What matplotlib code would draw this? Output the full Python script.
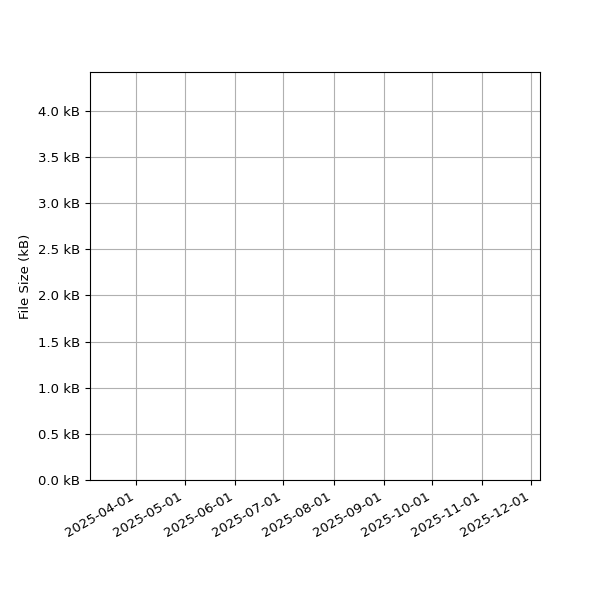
import datetime as dt
import matplotlib
matplotlib.use('Agg')
import matplotlib.pyplot as plt
import matplotlib.dates as mdates
from matplotlib.ticker import FuncFormatter, MultipleLocator

plt.rcParams['font.size'] = 9.5

# visible window of the (empty) file size history
x_start = dt.datetime(2025, 3, 3, 14)
x_end = dt.datetime(2025, 12, 6, 13)
y_min_kb = 0.0
y_max_kb = 4.42

fig, ax = plt.subplots(figsize=(6, 6), dpi=100)
fig.subplots_adjust(left=0.15, right=0.9, top=0.88, bottom=0.2)

ax.set_xlim(x_start, x_end)
ax.set_ylim(y_min_kb, y_max_kb)

ax.xaxis.set_major_locator(mdates.MonthLocator())
ax.xaxis.set_major_formatter(mdates.DateFormatter('%Y-%m-%d'))
ax.yaxis.set_major_locator(MultipleLocator(0.5))
ax.yaxis.set_major_formatter(FuncFormatter(lambda v, p: '{:.1f} kB'.format(v)))

ax.set_ylabel('File Size (kB)')
ax.grid(True)
plt.setp(ax.get_xticklabels(), rotation=30, ha='right')

fig.savefig('out.png')
